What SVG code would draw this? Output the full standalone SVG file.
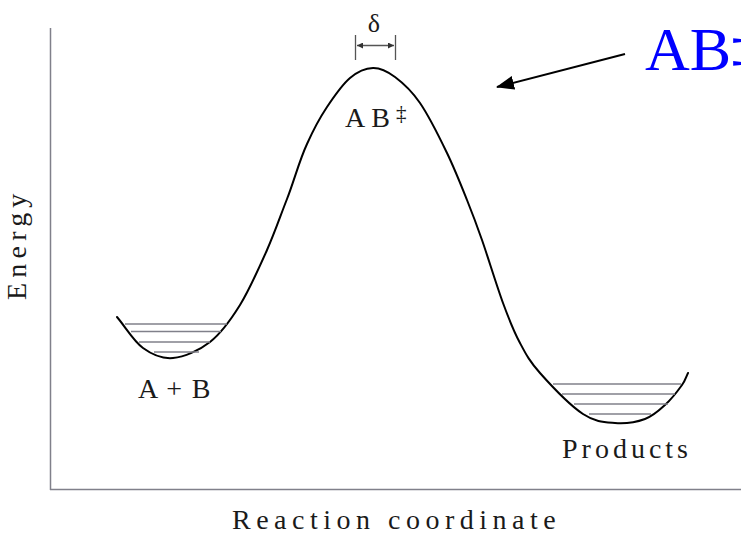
<svg xmlns="http://www.w3.org/2000/svg" width="741" height="535" viewBox="0 0 741 535">
<defs>
<style>
.axis{stroke:#80808a;stroke-width:1.5;fill:none}
.hatch{stroke:#80808a;stroke-width:1.3;fill:none}
.curve{stroke:#000;stroke-width:2;fill:none;stroke-linejoin:round;stroke-linecap:round}
.lbl{font-family:"Liberation Serif","Times New Roman",serif;font-size:28px;fill:#1a1a1a}
.brk{stroke:#555;stroke-width:1.3;fill:none}
</style>
<marker id="ah" markerUnits="userSpaceOnUse" markerWidth="18" markerHeight="14" refX="17" refY="7" orient="auto">
<path d="M0,0 L18,7 L0,14 z" fill="#000"/>
</marker>
<marker id="sh" markerUnits="userSpaceOnUse" markerWidth="6" markerHeight="6" refX="6" refY="3" orient="auto-start-reverse">
<path d="M0,0 L6,3 L0,6 z" fill="#333"/>
</marker>
</defs>
<rect width="741" height="535" fill="#fff"/>
<g id="axes">
<line class="axis" x1="50.5" y1="28" x2="50.5" y2="490"/>
<line class="axis" x1="50" y1="489.5" x2="741" y2="489.5"/>
</g>
<g id="energy-curve">
<path class="curve" d="M117,317 C125.7,327.3 133.7,341.2 143,348 C152.3,354.8 161.8,359 173,358 C184.2,357 198.8,350.8 210,342 C221.2,333.2 230.5,320.3 240,305 C249.5,289.7 259.2,267.5 267,250 C274.8,232.5 280.3,216 287,199 C293.7,182 299.5,160 307,144 C313.7,129 319.8,117.8 327,107 C334.2,96.2 342.3,84.5 350,78 C357.7,71.5 365.5,68.2 373,68 C380.5,67.8 387.2,71.2 395,77 C402.8,82.8 411.3,90.3 420,103 C428.7,115.7 439.2,136.8 447,153 C454.8,169.2 461.2,185.5 467,200 C472.8,214.5 476,222.8 482,240 C488,257.2 496.7,285.8 503,303 C509.3,320.2 513.8,331.3 520,343 C526.2,354.7 529.5,361.2 540,373 C550.5,384.8 570.5,405.7 583,414 C595.5,422.3 604.7,422.2 615,423 C625.3,423.8 636.7,422 645,419 C653.3,416 658.8,410.7 665,405 C671.2,399.3 678.2,390.3 682,385 C685.8,379.7 686,377 688,373"/>
</g>
<g id="reactant-well">
<line class="hatch" x1="125" y1="324" x2="227" y2="324"/>
<line class="hatch" x1="131" y1="331.5" x2="221" y2="331.5"/>
<line class="hatch" x1="139" y1="342" x2="210" y2="342"/>
<line class="hatch" x1="154" y1="352" x2="199" y2="352"/>
<text class="lbl" x="138" y="398" letter-spacing="1.3">A + B</text>
</g>
<g id="product-well">
<line class="hatch" x1="553" y1="384" x2="681" y2="384"/>
<line class="hatch" x1="562" y1="394" x2="675" y2="394"/>
<line class="hatch" x1="574" y1="404" x2="668" y2="404"/>
<line class="hatch" x1="589" y1="414" x2="651" y2="414"/>
<text class="lbl" x="562" y="458" letter-spacing="4">Products</text>
</g>
<g id="transition-state">
<text class="lbl" x="374" y="32" text-anchor="middle" style="font-size:26px">δ</text>
<line class="brk" x1="355.5" y1="35" x2="355.5" y2="60"/>
<line class="brk" x1="395.5" y1="35" x2="395.5" y2="60"/>
<line class="brk" x1="357" y1="45.5" x2="394" y2="45.5" marker-start="url(#sh)" marker-end="url(#sh)"/>
<text class="lbl" x="345" y="127" letter-spacing="6">AB<tspan dy="-7" style="font-size:21px" letter-spacing="0">‡</tspan></text>
</g>
<g id="axis-labels">
<text class="lbl" x="232" y="529" letter-spacing="5.5">Reaction coordinate</text>
<text class="lbl" transform="translate(26,300) rotate(-90)" x="0" y="0" letter-spacing="5.2">Energy</text>
</g>
<g id="callout">
<text x="645" y="70" font-family="'Liberation Serif','Times New Roman',serif" font-size="62" fill="#0000ff">AB‡</text>
</g>
<g id="connectors">
<line x1="625" y1="54" x2="497" y2="87" stroke="#000" stroke-width="2" marker-end="url(#ah)"/>
</g>
</svg>
